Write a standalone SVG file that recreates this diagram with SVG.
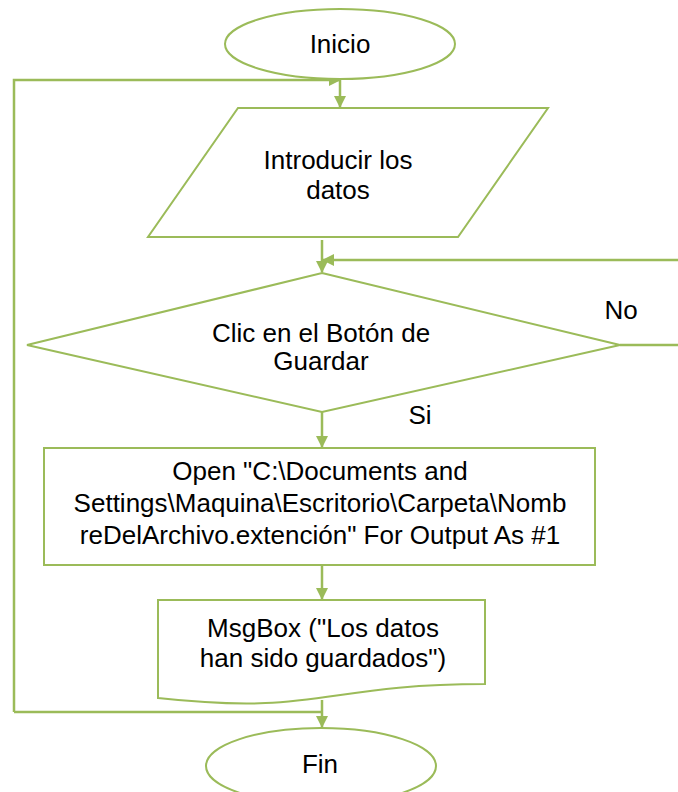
<svg xmlns="http://www.w3.org/2000/svg" width="678" height="792" viewBox="0 0 678 792">
<defs>
<marker id="ah" markerWidth="12" markerHeight="12" refX="11" refY="6" orient="auto" markerUnits="userSpaceOnUse">
<path d="M0,0 L12,6 L0,12 Z" fill="#9bbb59"/>
</marker>
<style>
.s{fill:#fff;stroke:#9bbb59;stroke-width:2}
.c{fill:none;stroke:#9bbb59;stroke-width:2.5}
text{font-family:"Liberation Sans",Arial,sans-serif;font-size:26px;fill:#000;text-anchor:middle}
</style>
</defs>
<rect width="678" height="792" fill="#fff"/>
<g id="connectors">
<path class="c" d="M14,712 V80 H340" marker-end="url(#ah)"/>
<path class="c" d="M340,80 V107" marker-end="url(#ah)"/>
<path class="c" d="M322,240 V272" marker-end="url(#ah)"/>
<path class="c" d="M678,260 H323" marker-end="url(#ah)"/>
<path class="c" d="M620,345 H678"/>
<path class="c" d="M322,412 V447" marker-end="url(#ah)"/>
<path class="c" d="M322,565 V599" marker-end="url(#ah)"/>
<path class="c" d="M322,700 V727" marker-end="url(#ah)"/>
<path class="c" d="M14,712 H322"/>
<text x="621" y="319">No</text>
<text x="420" y="424">Si</text>
</g>
<g id="inicio">
<ellipse class="s" cx="340" cy="44" rx="115" ry="35"/>
<text x="340" y="53">Inicio</text>
</g>
<g id="introducir">
<path class="s" d="M238,108 H548 L458,237 H148 Z"/>
<text x="338" y="169">Introducir los</text>
<text x="338" y="199">datos</text>
</g>
<g id="decision">
<path class="s" d="M322,273 L620,345 L322,412 L27,345 Z"/>
<text x="321" y="342">Clic en el Botón de</text>
<text x="321" y="370">Guardar</text>
</g>
<g id="open">
<rect class="s" x="44" y="448" width="551" height="117"/>
<text x="320" y="480">Open "C:\Documents and</text>
<text x="320" y="512">Settings\Maquina\Escritorio\Carpeta\Nomb</text>
<text x="320" y="544">reDelArchivo.extención" For Output As #1</text>
</g>
<g id="msgbox">
<path class="s" d="M158,600 H485 V684 C321.5,684 321.5,716 158,698 Z"/>
<text x="323" y="637">MsgBox ("Los datos</text>
<text x="323" y="667">han sido guardados")</text>
</g>
<g id="fin">
<ellipse class="s" cx="321" cy="766" rx="115" ry="38"/>
<text x="320" y="773">Fin</text>
</g>
</svg>
